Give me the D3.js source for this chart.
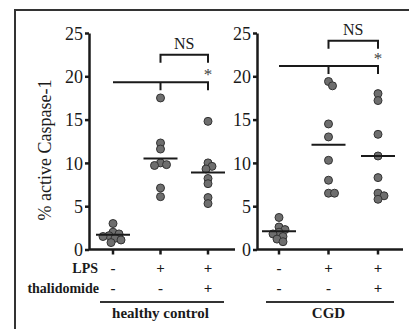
<!DOCTYPE html>
<html>
<head>
<meta charset="utf-8">
<script src="https://cdn.jsdelivr.net/npm/d3@7"></script>
<style>
  body { margin: 0; background: #fff; }
  text { font-family: "Liberation Serif", "Times New Roman", serif; fill: #1a1a1a; }
</style>
</head>
<body>
<svg id="chart" width="409" height="329"></svg>
<script>
// values (% active Caspase-1)
var categories = ["none", "LPS", "LPS+thal"]
var lpsRow = ["-", "+", "+"]
var thalRow = ["-", "-", "+"]
var yTicks = [0, 5, 10, 15, 20, 25]

var hcValues = [
  [3.0, 2.0, 1.8, 1.6, 1.5, 1.3, 1.1, 0.8],
  [17.5, 12.3, 11.6, 10.0, 9.8, 9.7, 7.1, 6.1],
  [14.8, 10.0, 9.6, 9.3, 8.2, 7.6, 6.0, 5.3]
]
var hcMeans = [1.7, 10.5, 8.9]

var cgdValues = [
  [3.7, 2.6, 2.3, 2.0, 1.8, 1.5, 1.2, 0.9],
  [19.4, 18.9, 14.5, 13.0, 10.3, 8.0, 6.5, 6.5],
  [18.0, 17.2, 13.3, 10.8, 8.3, 6.5, 6.2, 5.8]
]
var cgdMeans = [2.1, 12.1, 10.8]

// significance annotations: level of the long line, level of the NS bracket
var panels = [
  { name: "healthy control", values: hcValues, means: hcMeans, starLevel: 19.3, nsLevel: 22.5 },
  { name: "CGD", values: cgdValues, means: cgdMeans, starLevel: 21.2, nsLevel: 24.1 }
]

var svg = d3.select("#chart")
var ink = "#1a1a1a"
var serif = "'Liberation Serif', 'Times New Roman', serif"

// outer frame (only top and left are in the crop)
svg.append("path")
  .attr("d", "M15,329V10H409")
  .attr("fill", "none")
  .attr("stroke", "#333")
  .attr("stroke-width", 2)

var y = d3.scaleLinear().domain([0, 25]).range([249.5, 33])

var layouts = [
  { axisX: 89, xEnd: 235, first: 113, last: 208 },
  { axisX: 257, xEnd: 403, first: 279, last: 378 }
]

// simple beeswarm so overlapping dots spread sideways
function swarm(vals, cx) {
  var placed = []
  var sorted = vals.slice().sort((a, b) => b - a)
  sorted.forEach(v => {
    var py = y(v)
    var cands = [0]
    for (var k = 1; k < 14; k++) cands.push(k * 2, -k * 2)
    for (var i = 0; i < cands.length; i++) {
      var px = cx + cands[i]
      var ok = placed.every(p => Math.hypot(p.x - px, p.y - py) >= 5)
      if (ok) { placed.push({ x: px, y: py, v: v }); break }
    }
  })
  return placed
}

panels.forEach((panel, pi) => {
  var L = layouts[pi]
  var x = d3.scalePoint().domain(categories).range([L.first, L.last])
  var g = svg.append("g")

  // y axis
  var yAxis = g.append("g")
    .attr("transform", `translate(${L.axisX},0)`)
    .call(d3.axisLeft(y).tickValues(yTicks).tickSize(4).tickSizeOuter(0).tickPadding(2))
    .attr("font-family", serif)
    .attr("font-size", 18)
  yAxis.select(".domain").attr("stroke", ink).attr("stroke-width", 2.5)
  yAxis.selectAll(".tick line").attr("stroke", ink).attr("stroke-width", 2.5)
  yAxis.selectAll(".tick text")
    .attr("fill", ink)
    .style("fill", ink)
    .attr("dy", "0.34em")

  // x axis line
  g.append("line")
    .attr("x1", L.axisX).attr("x2", L.xEnd)
    .attr("y1", y(0)).attr("y2", y(0))
    .attr("stroke", ink).attr("stroke-width", 2.5)
  g.selectAll(".xt").data(categories).join("line")
    .attr("x1", d => x(d)).attr("x2", d => x(d))
    .attr("y1", y(0)).attr("y2", y(0) + 5)
    .attr("stroke", ink).attr("stroke-width", 2.5)

  // dots
  categories.forEach((c, ci) => {
    var pts = swarm(panel.values[ci], x(c))
    g.selectAll(".dot" + ci).data(pts).join("circle")
      .attr("cx", d => d.x).attr("cy", d => d.y).attr("r", 4)
      .attr("fill", "#6e6e6e").attr("stroke", "#333").attr("stroke-width", 1)
  })

  // mean lines
  g.selectAll(".mean").data(panel.means).join("line")
    .attr("x1", (d, i) => x(categories[i]) - 17)
    .attr("x2", (d, i) => x(categories[i]) + 17)
    .attr("y1", d => y(d)).attr("y2", d => y(d))
    .attr("stroke", ink).attr("stroke-width", 2)

  // long significance line with legs at LPS groups
  var ys = y(panel.starLevel)
  g.append("path")
    .attr("d", `M${x(categories[0])},${ys}H${x(categories[2])}v8M${x(categories[1])},${ys}v8`)
    .attr("fill", "none").attr("stroke", ink).attr("stroke-width", 2)
  g.append("text")
    .attr("x", x(categories[2])).attr("y", ys - 2)
    .attr("text-anchor", "middle")
    .style("font-size", "17px")
    .style("fill", "#444")
    .text("*")

  // NS bracket
  var yn = y(panel.nsLevel)
  g.append("path")
    .attr("d", `M${x(categories[1])},${yn + 8}V${yn}H${x(categories[2])}V${yn + 8}`)
    .attr("fill", "none").attr("stroke", ink).attr("stroke-width", 2)
  g.append("text")
    .attr("x", (x(categories[1]) + x(categories[2])) / 2).attr("y", yn - 6)
    .attr("text-anchor", "middle")
    .style("font-size", "16px")
    .text("NS")

  // treatment rows
  g.selectAll(".lps").data(lpsRow).join("text")
    .attr("x", (d, i) => x(categories[i])).attr("y", 273)
    .attr("text-anchor", "middle")
    .style("font-size", "15px").style("font-weight", "bold")
    .text(d => d)
  g.selectAll(".thal").data(thalRow).join("text")
    .attr("x", (d, i) => x(categories[i])).attr("y", 293)
    .attr("text-anchor", "middle")
    .style("font-size", "15px").style("font-weight", "bold")
    .text(d => d)

  // group underline and name
  g.append("line")
    .attr("x1", x(categories[0]) - 13).attr("x2", x(categories[2]) + 16)
    .attr("y1", 302).attr("y2", 302)
    .attr("stroke", "#333").attr("stroke-width", 2)
  g.append("text")
    .attr("x", (x(categories[0]) + x(categories[2])) / 2).attr("y", 318)
    .attr("text-anchor", "middle")
    .style("font-size", "15px").style("font-weight", "bold")
    .text(panel.name)
})

// row labels
svg.append("text").attr("x", 98).attr("y", 273).attr("text-anchor", "end")
  .style("font-size", "14px").style("font-weight", "bold").text("LPS")
svg.append("text").attr("x", 99).attr("y", 293).attr("text-anchor", "end")
  .style("font-size", "14px").style("font-weight", "bold").text("thalidomide")

// y axis title
svg.append("text")
  .attr("transform", "translate(51,150) rotate(-90)")
  .attr("text-anchor", "middle")
  .style("font-size", "18px")
  .text("% active Caspase-1")
</script>
</body>
</html>
